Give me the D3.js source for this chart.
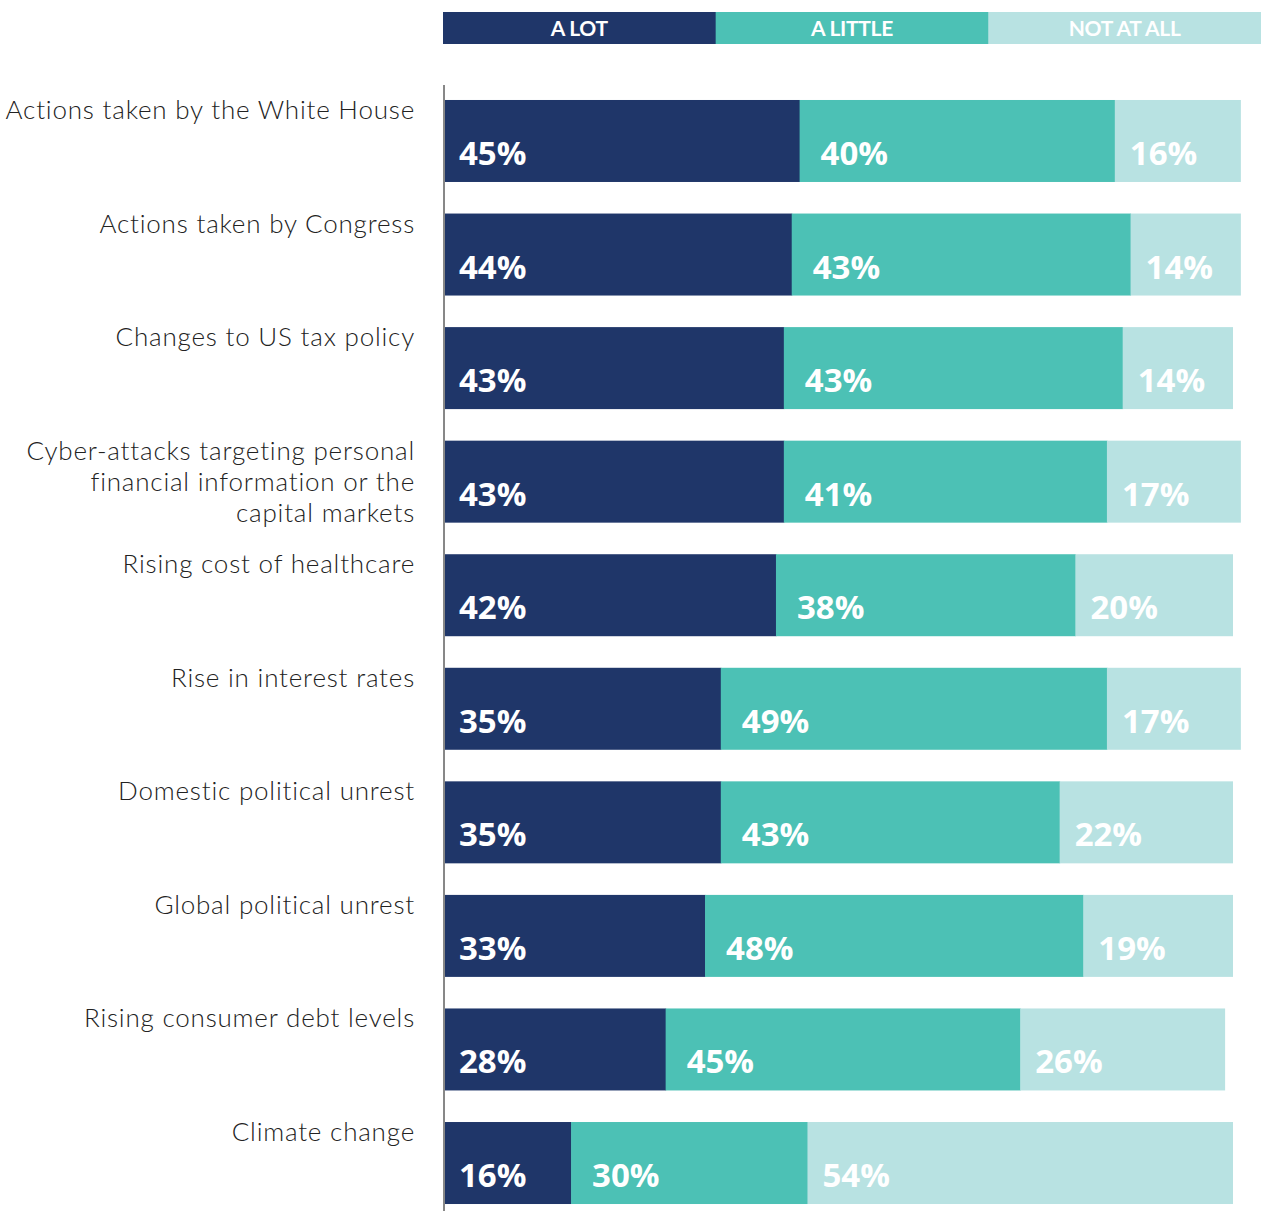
<!DOCTYPE html>
<html>
<head>
<meta charset="utf-8">
<script src="https://cdn.jsdelivr.net/npm/d3@7"></script>
<style>
  body { margin: 0; background: #fff; }
  svg { display: block; }
</style>
</head>
<body>
<svg id="chart"></svg>
<script>
const categories = [
  ["Actions taken by the White House"],
  ["Actions taken by Congress"],
  ["Changes to US tax policy"],
  ["Cyber-attacks targeting personal", "financial information or the", "capital markets"],
  ["Rising cost of healthcare"],
  ["Rise in interest rates"],
  ["Domestic political unrest"],
  ["Global political unrest"],
  ["Rising consumer debt levels"],
  ["Climate change"]
];
const series = ["A LOT", "A LITTLE", "NOT AT ALL"];
const aLot =     [45, 44, 43, 43, 42, 35, 35, 33, 28, 16];
const aLittle =  [40, 43, 43, 41, 38, 49, 43, 48, 45, 30];
const notAtAll = [16, 14, 14, 17, 20, 17, 22, 19, 26, 54];
const colors = ["#1f3669", "#4cc1b5", "#b8e2e2"];

const width = 1261, height = 1211;
const svg = d3.select("#chart").attr("width", width).attr("height", height);

const rows = categories.map((c, i) => ({
  key: i, lines: c, values: [aLot[i], aLittle[i], notAtAll[i]]
}));

const x = d3.scaleLinear().domain([0, 100]).range([445, 1233]);
const y = d3.scaleBand().domain(d3.range(categories.length))
  .range([100 - 31.6 * 0.5, 1204 + 31.6 * 0.5]).paddingInner(0.278).paddingOuter(0.139);

// legend
const legend = d3.scaleBand().domain(series).range([443, 1261]);
const lg = svg.append("g");
lg.selectAll("rect").data(series).enter().append("rect")
  .attr("x", d => legend(d)).attr("y", 12)
  .attr("width", legend.bandwidth() + 0.5).attr("height", 32)
  .attr("fill", (d, i) => colors[i]);
lg.selectAll("text").data(series).enter().append("text")
  .attr("x", d => legend(d) + legend.bandwidth() / 2).attr("y", 35.5)
  .attr("text-anchor", "middle").attr("fill", "#fff")
  .attr("font-family", "Lato, 'Open Sans', sans-serif").attr("font-weight", 700)
  .attr("font-size", "21px").attr("letter-spacing", "-0.3px")
  .text(d => d);

// axis line
svg.append("line").attr("x1", 444).attr("x2", 444).attr("y1", 85).attr("y2", height)
  .attr("stroke", "#111").attr("stroke-width", 1);

// bars
const offsets = [14, 21, 15];
const g = svg.selectAll("g.row").data(rows).enter().append("g").attr("class", "row")
  .attr("transform", d => `translate(0,${y(d.key)})`);

g.each(function (d) {
  const row = d3.select(this);
  let acc = 0;
  const segs = d.values.map((v, i) => { const s = { v, i, x0: acc }; acc += v; return s; });
  row.selectAll("rect").data(segs).enter().append("rect")
    .attr("x", s => x(s.x0)).attr("y", 0)
    .attr("width", s => x(s.x0 + s.v) - x(s.x0) + (s.i < 2 ? 0.5 : 0))
    .attr("height", y.bandwidth())
    .attr("fill", s => colors[s.i]);
  row.selectAll("text.val").data(segs).enter().append("text").attr("class", "val")
    .attr("x", s => x(s.x0) + offsets[s.i]).attr("y", 65)
    .attr("fill", "#fff").attr("font-family", "'Open Sans', Lato, sans-serif")
    .attr("font-weight", 700).attr("font-size", "33px")
    .text(s => s.v + "%");
  const lab = row.append("text").attr("x", 415).attr("y", 19)
    .attr("text-anchor", "end").attr("fill", "#222")
    .attr("font-family", "Lato, 'Open Sans', sans-serif").attr("font-weight", 300)
    .attr("font-size", "26px").attr("letter-spacing", "0.8px");
  lab.selectAll("tspan").data(d.lines).enter().append("tspan")
    .attr("x", 415).attr("dy", (l, i) => i === 0 ? 0 : 31.3).text(l => l);
});
</script>
</body>
</html>
